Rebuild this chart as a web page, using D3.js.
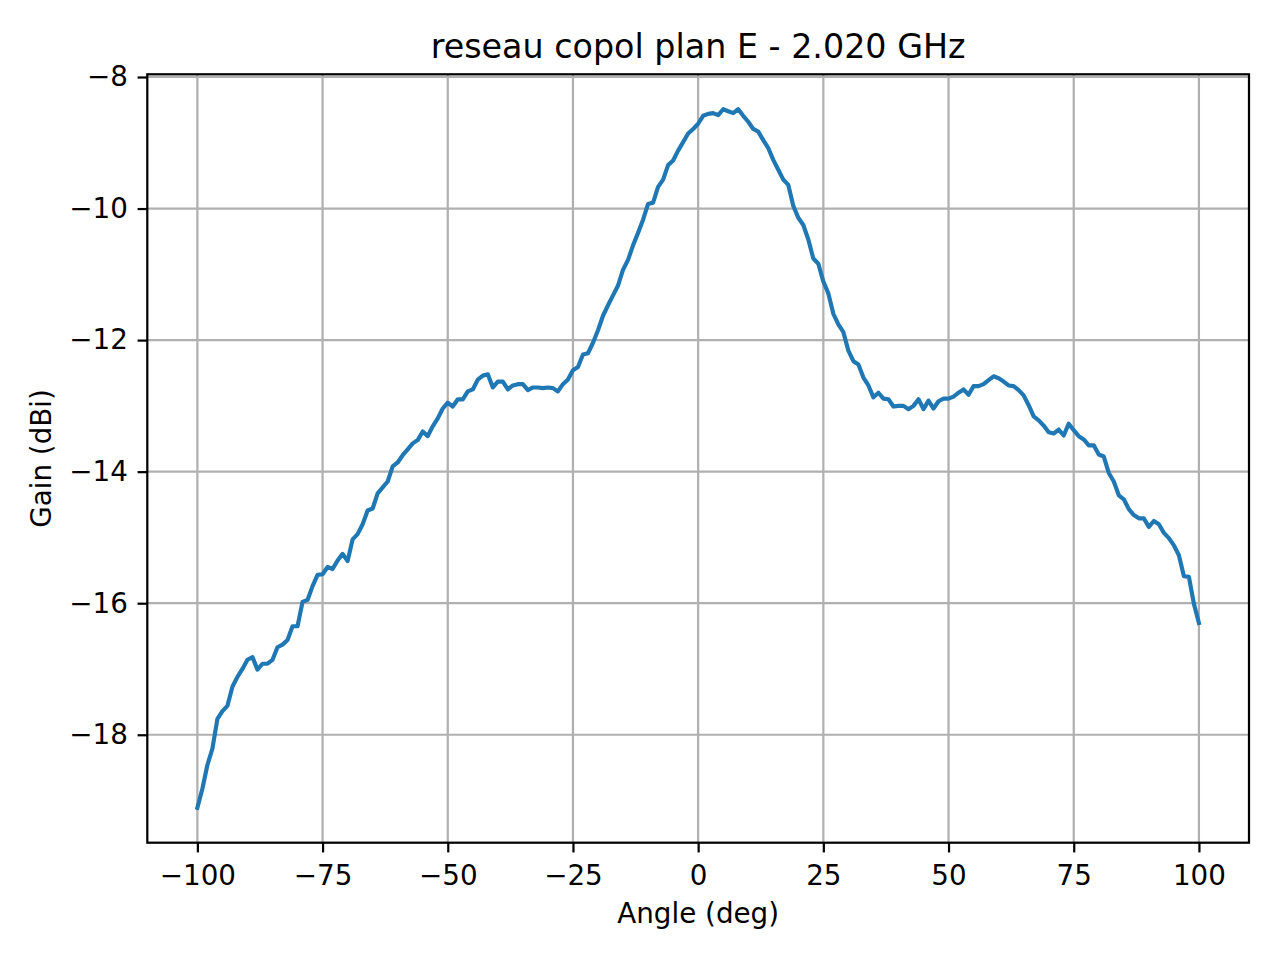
<!DOCTYPE html>
<html>
<head>
<meta charset="utf-8">
<script src="https://cdn.jsdelivr.net/npm/d3@7"></script>
<style>
  body { margin: 0; background: #fff; }
  svg text { font-family: "DejaVu Sans", sans-serif; fill: #000; }
</style>
</head>
<body>
<div class="bod"></div>
<script>
// data, 1 deg steps from -100 to 100
var angles = d3.range(-100, 101, 1)
var gain = [
  -19.11, -18.82, -18.46, -18.21, -17.76, -17.64, -17.56, -17.27, -17.12, -17.00,
  -16.86, -16.82, -17.01, -16.92, -16.92, -16.86, -16.67, -16.63, -16.56, -16.35,
  -16.35, -15.98, -15.95, -15.74, -15.57, -15.56, -15.45, -15.48, -15.35, -15.25,
  -15.36, -15.03, -14.95, -14.80, -14.59, -14.56, -14.33, -14.24, -14.15, -13.92,
  -13.86, -13.75, -13.66, -13.57, -13.52, -13.39, -13.46, -13.31, -13.19, -13.04,
  -12.95, -13.01, -12.90, -12.90, -12.78, -12.75, -12.60, -12.54, -12.52, -12.72,
  -12.63, -12.63, -12.75, -12.69, -12.67, -12.67, -12.76, -12.72, -12.72, -12.73,
  -12.72, -12.73, -12.78, -12.67, -12.60, -12.46, -12.41, -12.22, -12.20, -12.04,
  -11.85, -11.63, -11.47, -11.32, -11.17, -10.93, -10.78, -10.56, -10.37, -10.17,
  -9.93, -9.91, -9.67, -9.56, -9.34, -9.27, -9.12, -8.99, -8.86, -8.79,
  -8.71, -8.59, -8.56, -8.55, -8.58, -8.49, -8.52, -8.55, -8.49, -8.59,
  -8.68, -8.79, -8.83, -8.96, -9.08, -9.26, -9.41, -9.56, -9.64, -9.96,
  -10.14, -10.25, -10.47, -10.76, -10.84, -11.11, -11.29, -11.60, -11.76, -11.88,
  -12.16, -12.32, -12.37, -12.57, -12.69, -12.87, -12.80, -12.89, -12.90, -13.01,
  -13.00, -13.00, -13.05, -13.00, -12.90, -13.05, -12.92, -13.04, -12.93, -12.89,
  -12.89, -12.86, -12.80, -12.75, -12.83, -12.70, -12.70, -12.67, -12.61, -12.55,
  -12.58, -12.63, -12.69, -12.70, -12.76, -12.84, -12.99, -13.16, -13.22, -13.30,
  -13.40, -13.42, -13.36, -13.45, -13.27, -13.37, -13.46, -13.51, -13.60, -13.60,
  -13.74, -13.77, -14.02, -14.15, -14.36, -14.42, -14.57, -14.66, -14.71, -14.71,
  -14.84, -14.75, -14.80, -14.93, -15.01, -15.12, -15.27, -15.59, -15.60, -16.01,
  -16.30
]
var xTicks = [-100, -75, -50, -25, 0, 25, 50, 75, 100]
var yTicks = [-18, -16, -14, -12, -10, -8]
var title = 'reseau copol plan E - 2.020 GHz'
var xLabel = 'Angle (deg)'
var yLabel = 'Gain (dBi)'

var size = {width: 1280, height: 960, left: 147.3, right: 1249, top: 74.3, bottom: 842.7}
var pt = 200 / 72
var fmt = v => (v < 0 ? '\u2212' : '') + Math.abs(v)

const svg = d3.select('.bod')
  .append('svg')
  .attr('width', size.width)
  .attr('height', size.height)

// matplotlib style 5% margins
let gMin = d3.min(gain), gMax = d3.max(gain), pad = (gMax - gMin) * 0.05
let x = d3.scaleLinear().domain([-110, 110]).range([size.left, size.right])
let y = d3.scaleLinear().domain([gMin - pad, gMax + pad]).range([size.bottom, size.top])

// grid
svg.append('g').selectAll('line').data(xTicks).enter().append('line')
  .attr('x1', d => x(d)).attr('x2', d => x(d))
  .attr('y1', size.top).attr('y2', size.bottom)
  .attr('stroke', '#b0b0b0').attr('stroke-width', 0.8 * pt)
svg.append('g').selectAll('line').data(yTicks).enter().append('line')
  .attr('y1', d => y(d)).attr('y2', d => y(d))
  .attr('x1', size.left).attr('x2', size.right)
  .attr('stroke', '#b0b0b0').attr('stroke-width', 0.8 * pt)

// curve
let line = d3.line().x((d, i) => x(angles[i])).y(d => y(d))
svg.append('path')
  .datum(gain)
  .attr('d', line)
  .attr('fill', 'none')
  .attr('stroke', '#1f77b4')
  .attr('stroke-width', 1.5 * pt)
  .attr('stroke-linejoin', 'round')
  .attr('stroke-linecap', 'square')

// axes
let xAxis = d3.axisBottom(x).tickValues(xTicks).tickFormat(fmt).tickSize(3.5 * pt).tickPadding(3.5 * pt)
let yAxis = d3.axisLeft(y).tickValues(yTicks).tickFormat(fmt).tickSize(3.5 * pt).tickPadding(3.5 * pt)
let gx = svg.append('g').attr('transform', `translate(0,${size.bottom})`).call(xAxis)
let gy = svg.append('g').attr('transform', `translate(${size.left},0)`).call(yAxis)
;[gx, gy].forEach(g => {
  g.select('.domain').remove()
  g.selectAll('line').attr('stroke', '#000').attr('stroke-width', 0.8 * pt)
  g.selectAll('text').attr('font-size', 10 * pt).attr('font-family', 'DejaVu Sans').attr('fill', '#000')
})
gx.selectAll('text').attr('y', 3.5 * pt * 2 + 3)

// frame
svg.append('rect')
  .attr('x', size.left).attr('y', size.top)
  .attr('width', size.right - size.left).attr('height', size.bottom - size.top)
  .attr('fill', 'none').attr('stroke', '#000').attr('stroke-width', 0.8 * pt)

// labels
let cx = (size.left + size.right) / 2
svg.append('text').attr('x', cx).attr('y', 58).attr('text-anchor', 'middle')
  .attr('font-size', 12 * pt).text(title)
svg.append('text').attr('x', cx).attr('y', 923).attr('text-anchor', 'middle')
  .attr('font-size', 10 * pt).text(xLabel)
svg.append('text').attr('transform', `translate(51,${(size.top + size.bottom) / 2}) rotate(-90)`)
  .attr('text-anchor', 'middle').attr('font-size', 10 * pt).text(yLabel)
</script>
</body>
</html>
